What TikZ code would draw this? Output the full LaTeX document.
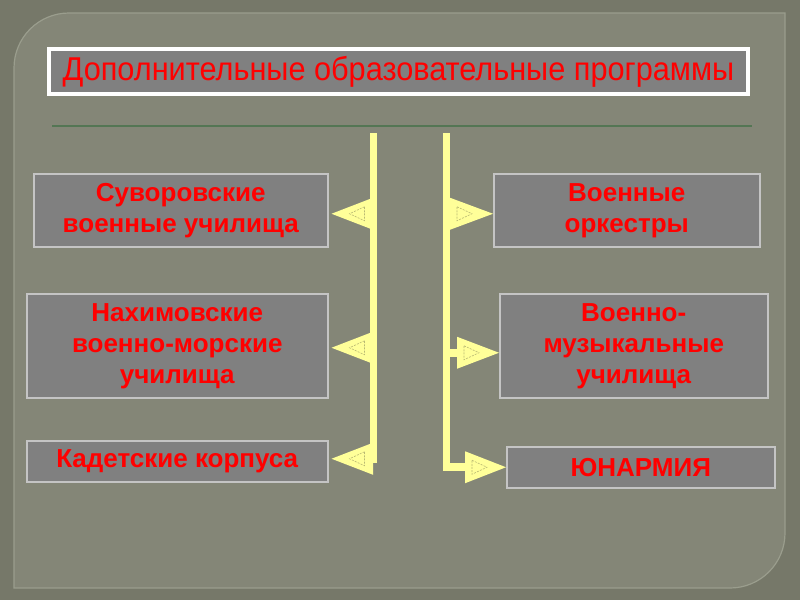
\documentclass[tikz,border=0pt]{standalone}
\usepackage{fontspec}
\setmainfont{Liberation Sans}
\usetikzlibrary{positioning,calc}

\definecolor{outerbg}{RGB}{118,120,105}
\definecolor{panelbg}{RGB}{132,134,119}
\definecolor{panelrim}{RGB}{154,157,141}
\definecolor{boxgray}{RGB}{128,128,128}
\definecolor{boxrim}{RGB}{196,196,196}
\definecolor{flagyel}{RGB}{255,255,153}
\definecolor{flagdash}{RGB}{185,185,115}
\definecolor{rulegreen}{RGB}{84,118,84}
\definecolor{txtred}{RGB}{255,0,0}

% left flag: #1 box node, #2 vertical offset of the tip
\newcommand{\flagL}[2]{%
  \fill[flagyel] ($(#1.east -| barL)+(0,#2-16)$) -- ($(#1.east)+(3,#2)$)
    -- ($(#1.east -| barL)+(0,#2+16)$) -- cycle;
  \draw[flagmark] ($(#1.east)+(36,#2-7)$) -- ($(#1.east)+(21,#2)$)
    -- ($(#1.east)+(36,#2+7)$) -- cycle;}
% right flag: #1 box node, #2 vertical offset, #3 stem length
\newcommand{\flagR}[3]{%
  \fill[flagyel] ($(#1.west -| barR)+(0,#2-4)$) rectangle ($(#1.west -| barR)+(#3+1,#2+4)$);
  \fill[flagyel] ($(#1.west -| barR)+(#3,#2-16)$) -- ($(#1.west)+(0,#2)$)
    -- ($(#1.west -| barR)+(#3,#2+16)$) -- cycle;
  \draw[flagmark] ($(#1.west -| barR)+(#3+7,#2-7)$) -- ($(#1.west -| barR)+(#3+22,#2)$)
    -- ($(#1.west -| barR)+(#3+7,#2+7)$) -- cycle;}

\begin{document}
\begin{tikzpicture}[x=1pt,y=-1pt,
  progbox/.style={draw=boxrim,line width=1.5pt,fill=boxgray,text=txtred,
    font=\fontsize{26}{31}\selectfont\bfseries,align=center,inner sep=0pt,anchor=north west},
  titlebox/.style={draw=white,line width=4pt,fill=boxgray,text=txtred,
    font=\fontsize{33}{36}\selectfont,inner sep=0pt,anchor=north west},
  flagmark/.style={draw=flagdash,line width=0.6pt,dash pattern=on 2pt off 1.2pt}]

% --- background and panel ---
\fill[outerbg] (0,0) rectangle (800,600);
\filldraw[fill=panelbg,draw=panelrim,line width=1.2pt]
  (14,588) -- (14,68) .. controls (14,37.6) and (38.6,13) .. (69,13)
  -- (785,13) -- (785,533) .. controls (785,563.4) and (760.4,588) .. (730,588) -- cycle;

% --- title and rule ---
\node[titlebox,minimum width=699,minimum height=45] (ttl) at (47,47)
  {\scalebox{0.93}[1]{Дополнительные образовательные программы}};
\draw[rulegreen,line width=2pt] (52,126) -- (752,126);

% --- programme boxes ---
\node[progbox,minimum width=294,minimum height=73] (suv) at (33,173)
  {Суворовские\\военные училища};
\node[progbox,minimum width=301,minimum height=104] (nakh) at (26,293)
  {Нахимовские\\военно-морские\\училища};
\node[progbox,minimum width=301,minimum height=41] (kad) at (26,440)
  {Кадетские корпуса};
\node[progbox,minimum width=266,minimum height=73] (ork) at (493,173)
  {Военные\\оркестры};
\node[progbox,minimum width=268,minimum height=104] (muz) at (499,293)
  {Военно-\\музыкальные\\училища};
\node[progbox,minimum width=268,minimum height=41] (yun) at (506,446)
  {ЮНАРМИЯ};

% --- yellow bars ---
\coordinate (barL) at (373,0);
\coordinate (barR) at (447,0);
\fill[flagyel] (370,133) rectangle (377,463);
\fill[flagyel] (443,133) rectangle (450,471);

% --- flags to the boxes ---
\flagL{suv}{3.5}
\flagL{nakh}{2}
\flagL{kad}{-2.5}
\flagR{ork}{3.5}{3}
\flagR{muz}{7}{10}
\flagR{yun}{0}{18}

\end{tikzpicture}
\end{document}
